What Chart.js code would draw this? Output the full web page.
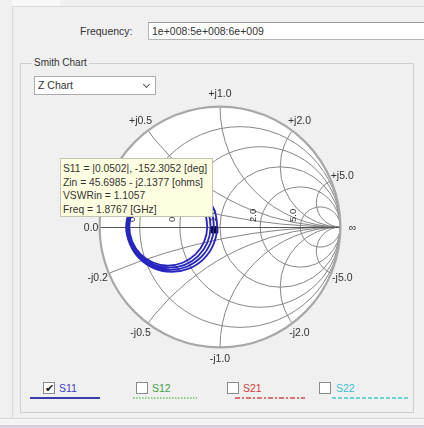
<!DOCTYPE html>
<html>
<head>
<meta charset="utf-8">
<script src="https://cdn.jsdelivr.net/npm/chart.js@4/dist/chart.umd.min.js"></script>
<style>
  body { margin:0; width:424px; height:428px; background:#f0f0f0; overflow:hidden; position:relative;
         font-family:"Liberation Sans", Arial, sans-serif; font-size:10.5px; color:#333; }
  .abs { position:absolute; }
  #freqBox { left:148px; top:22px; width:290px; height:18px; background:#fff; border:1px solid #b4b4b4;
             border-top-color:#9a9a9a; line-height:17px; padding-left:3px; box-sizing:border-box; }
  #group { left:20px; top:63px; width:394px; height:350px; border:1px solid #cfcfcf; box-sizing:border-box; }
  #groupTitle { left:32px; top:57px; padding:0 2px; background:#f0f0f0; line-height:12px; font-size:10px; }
  #combo { left:34px; top:76px; width:122px; height:19px; background:#fff; border:1px solid #acacac;
           box-sizing:border-box; line-height:17px; padding-left:3px; z-index:2; }
  #combo .arrow { position:absolute; right:6px; top:5px; width:4px; height:4px; border-right:1.5px solid #555;
                  border-bottom:1.5px solid #555; transform:rotate(45deg); }
  #smith { left:70px; top:77px; }
  #tip { left:60px; top:158px; width:153px; height:59px; background:#ffffe1; border:1px solid #c4c4b0;
         box-sizing:border-box; padding:3px 0 0 2px; font-size:10.3px; line-height:13.6px; color:#333; z-index:3;
         white-space:nowrap; }
  .chk { width:12px; height:12px; background:#fff; border:1px solid #8a8a8a; box-sizing:border-box;
         font-size:11px; line-height:10px; text-align:center; color:#222; }
  .lbl { font-size:10.5px; }
</style>
</head>
<body>
<div class="abs" style="left:12px;top:0;width:48px;height:6px;background:#f8f8f8"></div>
<div class="abs" style="left:12px;top:6px;width:412px;height:1px;background:#dadada"></div>
<div class="abs" style="left:12px;top:6px;width:1px;height:414px;background:#dadada"></div>

<div class="abs" style="left:80px;top:25px">Frequency:</div>
<div class="abs" id="freqBox">1e+008:5e+008:6e+009</div>

<div class="abs" id="group"></div>
<div class="abs" id="groupTitle">Smith Chart</div>
<div class="abs" id="combo">Z Chart<span class="arrow"></span></div>

<canvas class="abs" id="smith" width="300" height="300"></canvas>

<div class="abs" id="tip">
  S11 = |0.0502|, -152.3052 [deg]<br>
  Zin = 45.6985 - j2.1377 [ohms]<br>
  VSWRin = 1.1057<br>
  Freq = 1.8767 [GHz]
</div>

<div class="abs chk" style="left:43px;top:382px">&#10004;</div>
<div class="abs lbl" style="left:59px;top:382px;color:#3a3ac8">S11</div>
<svg class="abs" style="left:30px;top:396px" width="70" height="4"><line x1="0" y1="2" x2="70" y2="2" stroke="#3c3ca8" stroke-width="2"/></svg>

<div class="abs chk" style="left:136px;top:382px"></div>
<div class="abs lbl" style="left:152px;top:382px;color:#3ea23e">S12</div>
<svg class="abs" style="left:133px;top:396px" width="64" height="4"><line x1="0" y1="2" x2="64" y2="2" stroke="#6cc06c" stroke-width="1.5" stroke-dasharray="1.5 1.5"/></svg>

<div class="abs chk" style="left:227px;top:382px"></div>
<div class="abs lbl" style="left:243px;top:382px;color:#d23c3c">S21</div>
<svg class="abs" style="left:235px;top:396px" width="70" height="4"><line x1="0" y1="2" x2="70" y2="2" stroke="#d84848" stroke-width="1.5" stroke-dasharray="5 2 2 2"/></svg>

<div class="abs chk" style="left:319px;top:382px"></div>
<div class="abs lbl" style="left:336px;top:382px;color:#3cc0d0">S22</div>
<svg class="abs" style="left:332px;top:396px" width="76" height="4"><line x1="0" y1="2" x2="76" y2="2" stroke="#40c8c8" stroke-width="1.5" stroke-dasharray="4 2"/></svg>

<div class="abs" style="left:0;top:418px;width:424px;height:1px;background:#d6d6d6"></div>
<div class="abs" style="left:0;top:419px;width:424px;height:6px;background:#f4f4f4"></div>
<div class="abs" style="left:0;top:425px;width:424px;height:3px;background:#dccfe2"></div>

<script>
// Constant-resistance circles and constant-reactance arcs
const resistanceTicks = [0.2, 0.5, 1.0, 2.0, 5.0];
const reactanceTicks = [0.2, 0.5, 1.0, 2.0, 5.0];

// S11 sweep, reflection coefficient (real / imaginary)
const s11Re = [-0.131, -0.051, -0.024, -0.054, -0.137, -0.260, -0.404, -0.547, -0.668, -0.748, -0.780, -0.747, -0.667, -0.548, -0.409, -0.270,
               -0.154, -0.077, -0.051, -0.080, -0.159, -0.277, -0.414, -0.550, -0.665, -0.742, -0.771, -0.741, -0.665, -0.551, -0.419, -0.287,
               -0.176, -0.103, -0.078, -0.106, -0.182, -0.293, -0.424, -0.554, -0.663, -0.735, -0.762, -0.735, -0.662, -0.555, -0.429, -0.304,
               -0.198, -0.129, -0.106, -0.132, -0.204, -0.310, -0.434, -0.557, -0.660, -0.729, -0.753, -0.728, -0.660, -0.558, -0.439, -0.320, -0.221];
const s11Im = [0.269, 0.150, 0.000, -0.144, -0.266, -0.346, -0.373, -0.344, -0.263, -0.142, 0.000, 0.141, 0.259, 0.338, 0.365, 0.336,
               0.256, 0.140, 0.000, -0.137, -0.253, -0.330, -0.356, -0.328, -0.250, -0.135, 0.000, 0.134, 0.247, 0.322, 0.347, 0.320,
               0.244, 0.132, 0.000, -0.131, -0.241, -0.314, -0.338, -0.312, -0.238, -0.128, 0.000, 0.127, 0.235, 0.306, 0.330, 0.304,
               0.232, 0.125, 0.000, -0.124, -0.228, -0.297, -0.321, -0.295, -0.225, -0.122, 0.000, 0.121, 0.222, 0.289, 0.312, 0.287, 0.219];

// Marker at 1.8767 GHz: |S11| = 0.0502, angle -152.3052 deg
const markerMag = 0.0502;
const markerDeg = -152.3052;

const markerRe = markerMag * Math.cos(markerDeg * Math.PI / 180);
const markerIm = markerMag * Math.sin(markerDeg * Math.PI / 180);

// Helper: format a tick value like "1.0"
function fmt(v) {
    return v.toFixed(1);
}

// Grid drawn behind the trace, in gamma coordinates through the chart scales
const smithGrid = {
    id: "smithGrid",
    beforeDatasetsDraw(chart) {
        const ctx = chart.ctx;
        const sx = chart.scales.x;
        const sy = chart.scales.y;
        const px = (v) => sx.getPixelForValue(v);
        const py = (v) => sy.getPixelForValue(v);
        const unit = px(1) - px(0);
        const cx = px(0);
        const cy = py(0);

        ctx.save();
        // plot disc
        ctx.beginPath();
        ctx.arc(cx, cy, unit, 0, Math.PI * 2);
        ctx.fillStyle = "#ffffff";
        ctx.fill();

        ctx.save();
        ctx.beginPath();
        ctx.arc(cx, cy, unit, 0, Math.PI * 2);
        ctx.clip();
        ctx.strokeStyle = "#868686";
        ctx.lineWidth = 1;

        resistanceTicks.forEach((r) => {
            ctx.beginPath();
            ctx.arc(px(r / (1 + r)), cy, unit / (1 + r), 0, Math.PI * 2);
            ctx.stroke();
        });
        reactanceTicks.forEach((x) => {
            [x, -x].forEach((xx) => {
                ctx.beginPath();
                ctx.arc(px(1), py(1 / xx), unit / Math.abs(xx), 0, Math.PI * 2);
                ctx.stroke();
            });
        });
        ctx.restore();

        // real axis
        ctx.strokeStyle = "#555555";
        ctx.lineWidth = 1;
        ctx.beginPath();
        ctx.moveTo(px(-1), cy + 0.5);
        ctx.lineTo(px(1), cy + 0.5);
        ctx.stroke();

        // outer rim
        ctx.strokeStyle = "#a8a8a8";
        ctx.lineWidth = 2.2;
        ctx.beginPath();
        ctx.arc(cx, cy, unit, 0, Math.PI * 2);
        ctx.stroke();

        // reactance labels around the rim
        ctx.fillStyle = "#333333";
        ctx.font = "10.5px 'Liberation Sans', Arial, sans-serif";
        ctx.textAlign = "center";
        ctx.textBaseline = "middle";
        reactanceTicks.forEach((x) => {
            [1, -1].forEach((s) => {
                const d = 1 + x * x;
                const gr = (x * x - 1) / d;
                const gi = (2 * x * s) / d;
                const ang = Math.atan2(gi, gr);
                const rr = 1.1;
                ctx.fillText((s > 0 ? "+j" : "-j") + fmt(x), px(rr * Math.cos(ang)), py(rr * Math.sin(ang)));
            });
        });
        ctx.fillText("0.0", px(-1.07), cy + 1);
        ctx.fillText("\u221e", px(1.1), cy + 1);

        // resistance labels on the real axis
        ctx.font = "9.5px 'Liberation Sans', Arial, sans-serif";
        ctx.textAlign = "left";
        resistanceTicks.forEach((r) => {
            const g = (r - 1) / (r + 1);
            ctx.save();
            ctx.translate(px(g) - 7, cy - 5);
            ctx.rotate(-Math.PI / 2);
            ctx.fillText(fmt(r), 0, 0);
            ctx.restore();
        });
        ctx.restore();
    }
};

const s11Points = s11Re.map((re, i) => ({ x: re, y: s11Im[i] }));

new Chart(document.getElementById("smith").getContext("2d"), {
    type: "scatter",
    data: {
        datasets: [
            {
                label: "S11",
                data: s11Points,
                showLine: true,
                borderColor: "#2727c0",
                borderWidth: 1.8,
                pointRadius: 0,
                tension: 0.4,
                fill: false,
            },
            {
                label: "marker",
                data: [{ x: markerRe, y: markerIm }],
                pointStyle: "rect",
                pointRadius: 4.5,
                backgroundColor: "#000000",
                borderColor: "#000000",
            },
        ],
    },
    options: {
        responsive: false,
        animation: false,
        layout: { padding: 0 },
        plugins: { legend: { display: false }, tooltip: { enabled: false } },
        scales: {
            x: { type: "linear", min: -1.2, max: 1.2, display: false },
            y: { type: "linear", min: -1.2, max: 1.2, display: false },
        },
    },
    plugins: [smithGrid],
});
</script>
</body>
</html>
